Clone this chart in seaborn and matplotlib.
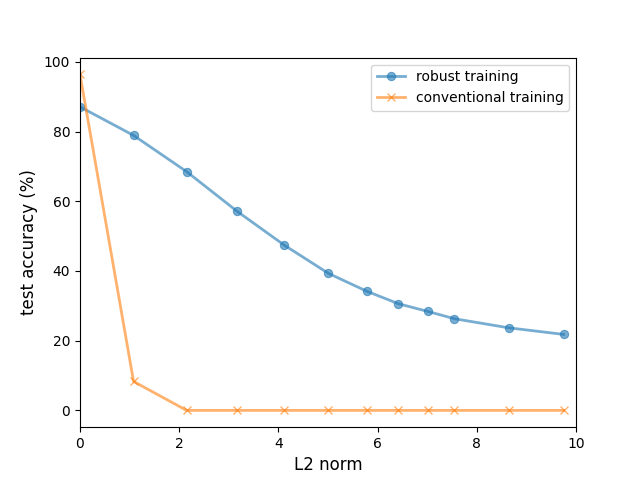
import matplotlib
matplotlib.use("Agg")
import matplotlib.pyplot as plt
import seaborn as sns
import pandas as pd

l2_norm = [0.0, 1.08, 2.15, 3.17, 4.12, 5.01, 5.78, 6.42, 7.01, 7.55, 8.64, 9.75]
robust_acc = [87.1, 78.9, 68.5, 57.1, 47.4, 39.3, 34.2, 30.6, 28.4, 26.3, 23.7, 21.8]
conventional_acc = [96.4, 8.3, 0.0, 0.0, 0.0, 0.0, 0.0, 0.0, 0.0, 0.0, 0.0, 0.0]

df_r = pd.DataFrame({"x": l2_norm, "y": robust_acc})
df_c = pd.DataFrame({"x": l2_norm, "y": conventional_acc})

fig, ax = plt.subplots(figsize=(6.4, 4.8), dpi=100)
sns.lineplot(data=df_r, x="x", y="y", ax=ax, color="tab:blue", alpha=0.6,
             linewidth=2, marker="o", markersize=6, markeredgecolor="tab:blue",
             label="robust training")
sns.lineplot(data=df_c, x="x", y="y", ax=ax, color="tab:orange", alpha=0.6,
             linewidth=2, marker="x", markersize=6, markeredgecolor="tab:orange",
             markeredgewidth=1, label="conventional training")
ax.set_xlim(0, 10)
ax.set_xlabel("L2 norm", fontsize=12)
ax.set_ylabel("test accuracy (%)", fontsize=12)
ax.legend(loc="upper right")
fig.savefig("out.png", dpi=100)
